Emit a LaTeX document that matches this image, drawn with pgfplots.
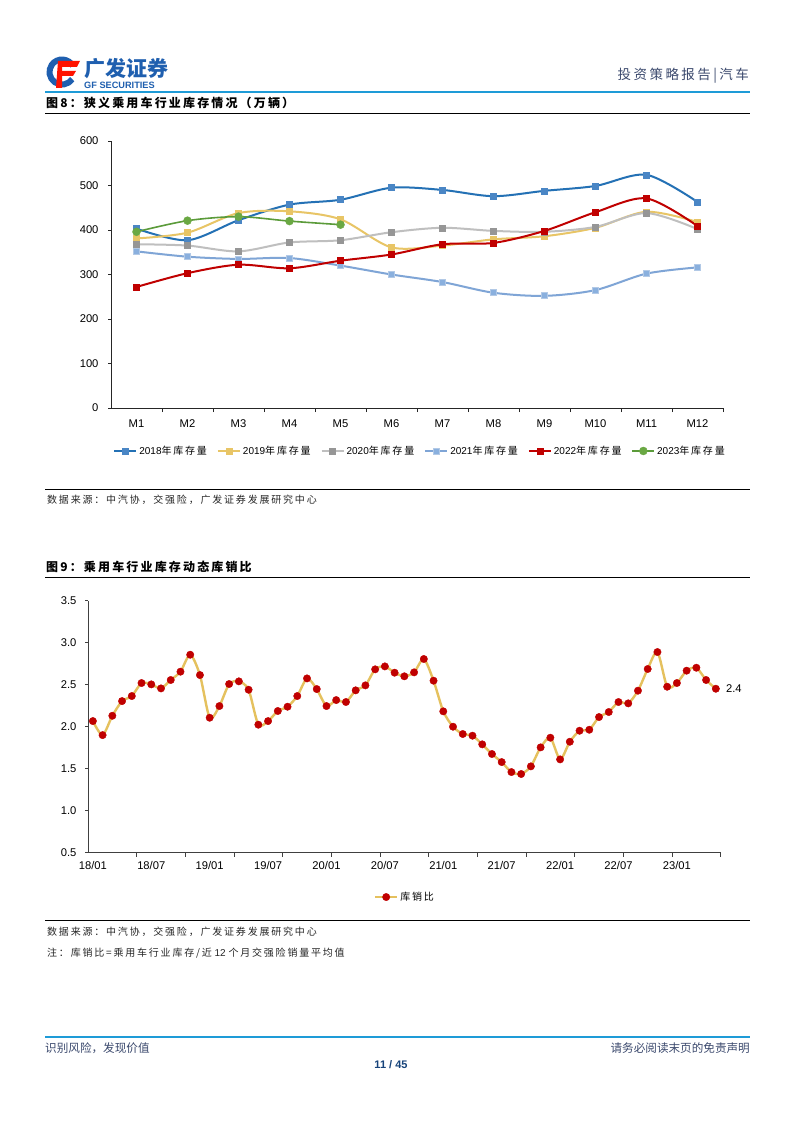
\documentclass[border=0pt]{standalone}
\usepackage{pgfplots}
\pgfplotsset{compat=1.18}
\usepackage{fontspec}
\setmainfont{Liberation Sans}
\newfontfamily\cjk{Noto Sans CJK SC}
\newfontfamily\cjkw{Noto Sans CJK SC}[LetterSpace=18]

\definecolor{gfblue}{HTML}{1F5FAF}
\definecolor{hdrline}{HTML}{1E9BD7}
\definecolor{hdrtext}{HTML}{3C4A6E}
\definecolor{c18}{HTML}{2471B5}
\definecolor{c18m}{HTML}{4A86C5}
\definecolor{c19}{HTML}{E8C566}
\definecolor{c20}{HTML}{BFBFBF}
\definecolor{c20m}{HTML}{969696}
\definecolor{c21}{HTML}{7FA5D6}
\definecolor{c21m}{HTML}{8AB0DE}
\definecolor{c22}{HTML}{C00000}
\definecolor{c23}{HTML}{5B9B3A}
\definecolor{c23m}{HTML}{6AA843}
\definecolor{ratioline}{HTML}{E5C15E}

\pgfplotstableread{
x r
0 2.067
1 1.900
2 2.130
3 2.305
4 2.365
5 2.520
6 2.504
7 2.456
8 2.556
9 2.655
10 2.857
11 2.615
12 2.107
13 2.246
14 2.508
15 2.540
16 2.440
17 2.024
18 2.067
19 2.187
20 2.238
21 2.365
22 2.575
23 2.448
24 2.246
25 2.317
26 2.294
27 2.433
28 2.492
29 2.683
30 2.718
31 2.643
32 2.600
33 2.647
34 2.806
35 2.548
36 2.183
37 2.000
38 1.913
39 1.893
40 1.790
41 1.675
42 1.579
43 1.460
44 1.437
45 1.528
46 1.754
47 1.869
48 1.611
49 1.821
50 1.952
51 1.964
52 2.115
53 2.175
54 2.294
55 2.278
56 2.429
57 2.687
58 2.889
59 2.476
60 2.520
61 2.667
62 2.702
63 2.556
64 2.452
}\ratiotable

\pgfplotsset{
  longlegend/.style={
    legend image code/.code={%
      \draw[mark repeat=2, mark phase=2, ##1] plot coordinates {(0pt,0pt) (11pt,0pt) (22pt,0pt)};}
  }
}

\begin{document}
\begin{tikzpicture}[x=1pt,y=-1pt]
\fill[white] (0,0) rectangle (794,1123);

% header
\draw[gfblue, line width=6pt] (62,72) ++(35:12.5) arc[start angle=35, end angle=330, radius=12.5];
\fill[red!85!orange] (58,61) -- (80,61) -- (77,67) -- (62,67) -- (62,88) -- (56,88) -- cycle;
\fill[red!85!orange] (62,71) -- (76,71) -- (73,76) -- (62,76) -- cycle;
\node[anchor=west, text=gfblue, inner sep=0] at (84,69) {\fontsize{21}{22}\selectfont\cjk\bfseries 广发证券};
\node[anchor=west, text=gfblue, inner sep=0] at (84,85) {\fontsize{9.2}{10}\selectfont\bfseries GF SECURITIES};
\node[anchor=east, text=hdrtext, inner sep=0] at (749,76) {\fontsize{13.5}{15}\selectfont\cjkw 投资策略报告|汽车};
\draw[hdrline, line width=1.5pt] (45,92) -- (750,92);

% figure 8 title
\node[anchor=west, inner sep=0] at (46,103) {\fontsize{12}{13}\selectfont\cjkw\bfseries 图8：狭义乘用车行业库存情况（万辆）};
\draw[black, line width=0.9pt] (45,113) -- (750,113);

\begin{axis}[
  at={(111pt,-408pt)}, anchor=south west,
  scale only axis, width=612pt, height=267pt,
  xmin=0.5, xmax=12.5, ymin=0, ymax=600,
  axis x line*=bottom, axis y line*=left,
  axis line style={black!85, line width=0.8pt, -},
  tick align=outside,
  xtick={1,...,12},
  xticklabels={M1,M2,M3,M4,M5,M6,M7,M8,M9,M10,M11,M12},
  major x tick style={draw=none},
  minor xtick={1.5,2.5,...,12.5},
  minor tick length=4pt,
  minor x tick style={black!85, line width=0.8pt},
  ytick={0,100,200,300,400,500,600},
  yticklabels={0,100,200,300,400,500,600},
  major tick length=3pt,
  y tick style={black!85, line width=0.8pt},
  tick label style={font=\fontsize{11.2}{12}\selectfont},
  xticklabel style={yshift=-5pt},
  yticklabel style={xshift=-6pt},
  longlegend,
  legend columns=6,
  legend style={at={(0.505,-0.161)}, anchor=center, draw=none,
    font=\fontsize{10}{11}\selectfont, /tikz/every even column/.append style={column sep=8pt}},
  legend cell align=left,
  every axis plot/.append style={smooth, tension=0.5, line width=2pt},
]
\addplot[c18, mark=square*, mark size=3pt, mark options={fill=c18m, draw=c18m, line width=0.5pt}] coordinates {
 (1,403) (2,377) (3,422) (4,457) (5,468) (6,495) (7,490) (8,476) (9,488) (10,499) (11,524) (12,463)};
\addlegendentry{2018{\cjkw 年库存量}}
\addplot[c19, mark=square*, mark size=3pt, mark options={fill=c19, draw=c19, line width=0.5pt}] coordinates {
 (1,381) (2,394) (3,438) (4,442) (5,424) (6,361) (7,365) (8,379) (9,386) (10,405) (11,441) (12,418)};
\addlegendentry{2019{\cjkw 年库存量}}
\addplot[c20, mark=square*, mark size=3pt, mark options={fill=c20m, draw=c20m, line width=0.5pt}] coordinates {
 (1,368) (2,365) (3,352) (4,372) (5,377) (6,395) (7,405) (8,398) (9,396) (10,407) (11,438) (12,402)};
\addlegendentry{2020{\cjkw 年库存量}}
\addplot[c21, mark=square*, mark size=3pt, mark options={fill=c21m, draw=c21!60!white, line width=0.8pt}] coordinates {
 (1,352) (2,340) (3,335) (4,337) (5,320) (6,300) (7,283) (8,259) (9,252) (10,265) (11,302) (12,316)};
\addlegendentry{2021{\cjkw 年库存量}}
\addplot[c22, mark=square*, mark size=3pt, mark options={fill=c22, draw=c22, line width=0.5pt}] coordinates {
 (1,272) (2,303) (3,322) (4,314) (5,331) (6,345) (7,368) (8,371) (9,398) (10,440) (11,471) (12,409)};
\addlegendentry{2022{\cjkw 年库存量}}
\addplot[c23, line width=1.6pt, mark=*, mark size=4pt, mark options={fill=c23m, draw=c23m, line width=0.4pt}] coordinates {
 (1,396) (2,421) (3,430) (4,420) (5,412)};
\addlegendentry{2023{\cjkw 年库存量}}
\end{axis}

\draw[black, line width=0.9pt] (45,489) -- (750,489);
\node[anchor=west, inner sep=0, text=black!85] at (47,500) {\fontsize{10}{11}\selectfont\cjkw 数据来源：中汽协，交强险，广发证券发展研究中心};

% figure 9 title
\node[anchor=west, inner sep=0] at (46,567) {\fontsize{12}{13}\selectfont\cjkw\bfseries 图9：乘用车行业库存动态库销比};
\draw[black, line width=0.9pt] (45,577) -- (750,577);

\begin{axis}[
  at={(88pt,-852.7pt)}, anchor=south west,
  scale only axis, width=632.7pt, height=252pt,
  xmin=-0.5, xmax=64.5, ymin=0.5, ymax=3.5,
  clip=false,
  axis x line*=bottom, axis y line*=left,
  axis line style={black!75, line width=0.8pt, -},
  tick align=outside,
  xtick={0,6,...,60},
  xticklabels={18/01,18/07,19/01,19/07,20/01,20/07,21/01,21/07,22/01,22/07,23/01},
  major x tick style={draw=none},
  minor xtick={4.5,9.5,...,64.5},
  minor tick length=4pt,
  minor x tick style={black!75, line width=0.8pt},
  ytick={0.5,1,1.5,2,2.5,3,3.5},
  yticklabels={0.5,1.0,1.5,2.0,2.5,3.0,3.5},
  major tick length=3pt,
  y tick style={black!75, line width=0.8pt},
  tick label style={font=\fontsize{11.2}{12}\selectfont},
  xticklabel style={yshift=-2pt},
  yticklabel style={xshift=-5pt},
  longlegend,
  legend style={at={(0.501,-0.176)}, anchor=center, draw=none,
    font=\fontsize{10}{11}\selectfont},
]
\addplot[ratioline, line width=2.4pt, smooth, tension=0.45, mark=*, mark size=3.7pt,
  mark options={fill=c22, draw=c22, line width=0.4pt}] table[x=x, y=r] {\ratiotable};
\addlegendentry{\cjkw 库销比}
\node[anchor=west, inner sep=0, font=\fontsize{11.2}{12}\selectfont] at (axis cs:64,2.452) {\hspace{10pt}2.4};
\end{axis}

\draw[black, line width=0.9pt] (45,920) -- (750,920);
\node[anchor=west, inner sep=0, text=black!85] at (47,932) {\fontsize{10}{11}\selectfont\cjkw 数据来源：中汽协，交强险，广发证券发展研究中心};
\node[anchor=west, inner sep=0, text=black!85] at (47,953) {\fontsize{10}{11}\selectfont{\cjkw 注：库销比=乘用车行业库存/近}\ 12\ {\cjkw 个月交强险销量平均值}};

% footer
\draw[hdrline, line width=1.5pt] (45,1037) -- (750,1037);
\node[anchor=west, inner sep=0, text=hdrtext] at (45,1048) {\fontsize{11.6}{13}\selectfont\cjk 识别风险，发现价值};
\node[anchor=east, inner sep=0, text=hdrtext] at (750,1048) {\fontsize{11.6}{13}\selectfont\cjk 请务必阅读末页的免责声明};
\node[inner sep=0, text=gfblue!70!black] at (391,1065) {\fontsize{11}{12}\selectfont\bfseries 11 / 45};
\end{tikzpicture}
\end{document}
